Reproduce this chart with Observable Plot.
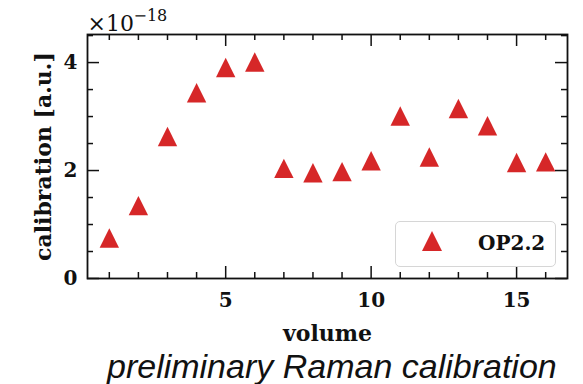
<!DOCTYPE html>
<html><head><meta charset="utf-8">
<script src="https://cdn.jsdelivr.net/npm/d3@7"></script>
<script src="https://cdn.jsdelivr.net/npm/@observablehq/plot@0.6"></script>
<style>
body{margin:0;width:583px;height:384px;overflow:hidden;position:relative;background:#fff;}
#chart svg{display:block;}
#legend{position:absolute;left:395px;top:221px;width:159px;height:44px;border:1px solid #d6d6d6;border-radius:5px;background:rgba(255,255,255,0.8);}
#legend svg{position:absolute;left:0;top:0;}
#caption{position:absolute;left:107px;top:349px;font:italic 34px/34px "Liberation Sans";white-space:nowrap;color:#111;}
</style></head><body>
<div id="chart"></div>
<div id="legend"><svg width="159" height="44"><path d="M36,9L46,29L26,29Z" fill="#d62728"/><text x="82" y="28" font-family="DejaVu Serif" font-weight="bold" font-size="20" fill="#111">OP2.2</text></svg></div>
<div id="caption">preliminary Raman calibration</div>
<script>
const volume = [1, 2, 3, 4, 5, 6, 7, 8, 9, 10, 11, 12, 13, 14, 15, 16];
const calibration = [0.75, 1.35, 2.63, 3.44, 3.91, 4.01, 2.04, 1.96, 1.98, 2.18, 3.01, 2.25, 3.15, 2.83, 2.15, 2.16];
const seriesName = "OP2.2";
const xMajor = [5, 10, 15];
const xMinor = [1, 2, 3, 4, 6, 7, 8, 9, 11, 12, 13, 14, 16];
const yMajor = [0, 2, 4];
const yMinor = [0.5, 1, 1.5, 2.5, 3, 3.5, 4.5];
const xLabel = "volume";
const yLabel = "calibration [a.u.]";
const caption = "preliminary Raman calibration";

const data = volume.map((v, i) => ({volume: v, calibration: calibration[i]}));

const tri = {draw(ctx, size) {
  const h = Math.sqrt(size / Math.PI);
  ctx.moveTo(0, -h); ctx.lineTo(h, h); ctx.lineTo(-h, h); ctx.closePath();
}};

const W = 583, H = 345, mL = 87, mR = 16, mT = 34, mB = 67;
const pH = H - mT - mB, pW = W - mL - mR;
const tickStyle = {stroke: "#111", strokeWidth: 1.5};

const chart = Plot.plot({
  width: W, height: H,
  marginLeft: mL, marginRight: mR, marginTop: mT, marginBottom: mB,
  x: {domain: [0.25, 16.75], axis: null},
  y: {domain: [0, 4.52], axis: null},
  style: {fontFamily: "DejaVu Serif", fontSize: "20px", fontWeight: "bold", color: "#111", background: "white"},
  marks: [
    Plot.tickX(xMinor, {x: d => d, insetTop: pH - 6, ...tickStyle}),
    Plot.tickX(xMinor, {x: d => d, insetBottom: pH - 6, ...tickStyle}),
    Plot.tickX(xMajor, {x: d => d, insetTop: pH - 12, ...tickStyle}),
    Plot.tickX(xMajor, {x: d => d, insetBottom: pH - 12, ...tickStyle}),
    Plot.tickY(yMinor, {y: d => d, insetRight: pW - 6, ...tickStyle}),
    Plot.tickY(yMinor, {y: d => d, insetLeft: pW - 6, ...tickStyle}),
    Plot.tickY(yMajor, {y: d => d, insetRight: pW - 12, ...tickStyle}),
    Plot.tickY(yMajor, {y: d => d, insetLeft: pW - 12, ...tickStyle}),
    Plot.axisX({ticks: xMajor, tickSize: 0, tickPadding: 14, label: null, fontSize: 20, tickFormat: d => String(d)}),
    Plot.axisY({ticks: yMajor, tickSize: 0, tickPadding: 10, label: null, fontSize: 20, tickFormat: d => String(d)}),
    Plot.dot(data, {x: "volume", y: "calibration", symbol: tri, r: 9.7, fill: "#d62728", stroke: "none"}),
    Plot.frame({stroke: "#111", strokeWidth: 1.8}),
    Plot.text([xLabel], {frameAnchor: "bottom", textAnchor: "middle", lineAnchor: "bottom", dy: 62, fontSize: 22, fill: "#111"}),
    Plot.text([yLabel], {frameAnchor: "left", textAnchor: "middle", lineAnchor: "bottom", rotate: -90, dx: -37, fontSize: 22, fill: "#111"}),
    Plot.text(["×10"], {frameAnchor: "top-left", textAnchor: "start", lineAnchor: "bottom", dy: -4, fontSize: 22, fontWeight: "normal", fill: "#111"}),
    Plot.text(["−18"], {frameAnchor: "top-left", textAnchor: "start", lineAnchor: "bottom", dx: 46, dy: -14, fontSize: 16, fontWeight: "normal", fill: "#111"})
  ]
});
document.getElementById("chart").append(chart);
document.getElementById("caption").textContent = caption;
</script>
</body></html>
